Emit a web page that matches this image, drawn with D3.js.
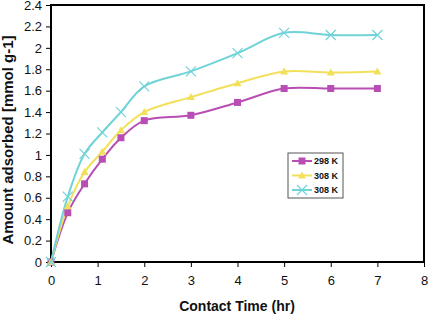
<!DOCTYPE html>
<html lang="en">
<head>
  <meta charset="UTF-8">
  <title>Amount adsorbed vs contact time</title>
  <script src="https://d3js.org/d3.v7.min.js"></script>
  <style>
    body { margin: 0; background: #fff; }
    text { font-family: "Liberation Sans", Arial, sans-serif; }
  </style>
</head>
<body>
  <div id="chart"></div>

  <script>
    // Data
    const times = [0, 0.36, 0.72, 1.1, 1.5, 2, 3, 4, 5, 6, 7];
    const k298 = [0, 0.46, 0.73, 0.96, 1.16, 1.32, 1.37, 1.49, 1.62, 1.62, 1.62];
    const k308a = [0, 0.52, 0.84, 1.03, 1.23, 1.40, 1.54, 1.67, 1.78, 1.77, 1.78];
    const k308b = [0, 0.61, 1.01, 1.21, 1.40, 1.64, 1.78, 1.95, 2.14, 2.12, 2.12];
    const seriesNames = ["298 K", "308 K", "308 K"];
    const xTicks = [0, 1, 2, 3, 4, 5, 6, 7, 8];
    const yTicks = [0, 0.2, 0.4, 0.6, 0.8, 1, 1.2, 1.4, 1.6, 1.8, 2, 2.2, 2.4];

    const colors = ["#b84db4", "#f2e05a", "#6fd3d8"];
    const markers = ["square", "triangle", "cross"];

    const W = 430, H = 314;
    const margin = { top: 5, right: 6, bottom: 52, left: 51 };
    const width = W - margin.left - margin.right;
    const height = H - margin.top - margin.bottom;

    const svg = d3.select("#chart").append("svg")
      .attr("width", W)
      .attr("height", H);

    const g = svg.append("g")
      .attr("transform", `translate(${margin.left},${margin.top})`);

    const x = d3.scaleLinear().domain([0, 8]).range([0, width]);
    const y = d3.scaleLinear().domain([0, 2.4]).range([height, 0]);

    // axes
    const xAxis = g.append("g")
      .attr("transform", `translate(0,${height})`)
      .call(d3.axisBottom(x).tickValues(xTicks).tickSize(5).tickPadding(9).tickFormat(d3.format("d")));
    const yAxis = g.append("g")
      .call(d3.axisLeft(y).tickValues(yTicks).tickSize(5).tickPadding(4).tickFormat(d => String(+d.toFixed(1))));

    [xAxis, yAxis].forEach(a => {
      a.select(".domain").remove();
      a.selectAll("line").attr("stroke", "#000").attr("stroke-width", 1);
      a.selectAll("text").attr("font-size", 13).attr("fill", "#111")
        .attr("font-family", "'Liberation Sans', Arial, sans-serif");
    });

    // frame
    g.append("rect")
      .attr("width", width)
      .attr("height", height)
      .attr("fill", "none")
      .attr("stroke", "#000")
      .attr("stroke-width", 2);

    const series = [k298, k308a, k308b].map((vals, i) => ({
      name: seriesNames[i],
      color: colors[i],
      marker: markers[i],
      points: vals.map((v, j) => ({ t: times[j], v }))
    }));

    const line = d3.line()
      .x(d => x(d.t))
      .y(d => y(d.v))
      .curve(d3.curveCatmullRom.alpha(0.5));

    function drawMarker(sel, type, color) {
      if (type === "square") {
        sel.append("rect")
          .attr("x", -3.5).attr("y", -3.5)
          .attr("width", 7).attr("height", 7)
          .attr("fill", color);
      } else if (type === "triangle") {
        sel.append("path")
          .attr("d", "M0,-4L4,3L-4,3Z")
          .attr("fill", color);
      } else {
        sel.append("path")
          .attr("d", "M-5,-5L5,5M-5,5L5,-5")
          .attr("stroke", color)
          .attr("stroke-width", 1.2)
          .attr("fill", "none");
      }
    }

    series.forEach(s => {
      g.append("path")
        .datum(s.points)
        .attr("fill", "none")
        .attr("stroke", s.color)
        .attr("stroke-width", 2)
        .attr("d", line);
    });

    series.forEach(s => {
      g.selectAll(null)
        .data(s.points)
        .enter()
        .append("g")
        .attr("transform", d => `translate(${x(d.t)},${y(d.v)})`)
        .each(function () { drawMarker(d3.select(this), s.marker, s.color); });
    });

    // legend
    const lg = svg.append("g").attr("transform", "translate(288,153)");
    lg.append("rect")
      .attr("width", 55).attr("height", 45)
      .attr("fill", "#fff")
      .attr("stroke", "#555")
      .attr("stroke-width", 1);
    series.forEach((s, i) => {
      const row = lg.append("g").attr("transform", `translate(0,${8 + i * 14.5})`);
      row.append("line")
        .attr("x1", 4).attr("x2", 24)
        .attr("stroke", s.color).attr("stroke-width", 2);
      drawMarker(row.append("g").attr("transform", "translate(14,0)"), s.marker, s.color);
      row.append("text")
        .attr("x", 26).attr("dy", "0.35em")
        .attr("font-size", 9).attr("font-weight", "bold")
        .attr("fill", "#111")
        .text(s.name);
    });

    // axis titles
    svg.append("text")
      .attr("x", 237)
      .attr("y", 311)
      .attr("text-anchor", "middle")
      .attr("font-size", 14).attr("font-weight", "bold")
      .attr("fill", "#111")
      .text("Contact Time (hr)");

    svg.append("text")
      .attr("transform", "translate(13,140) rotate(-90)")
      .attr("text-anchor", "middle")
      .attr("font-size", 15).attr("font-weight", "bold")
      .attr("fill", "#111")
      .text("Amount adsorbed [mmol g-1]");
  </script>
</body>
</html>
